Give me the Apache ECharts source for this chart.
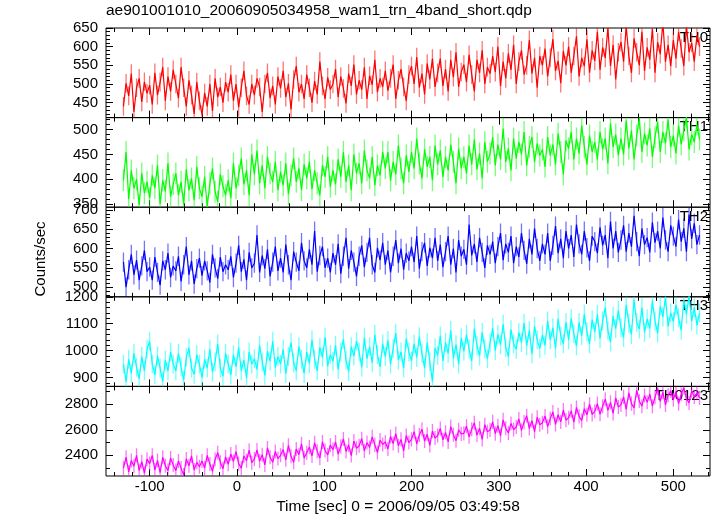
<!DOCTYPE html>
<html><head><meta charset="utf-8">
<script src="https://cdn.jsdelivr.net/npm/echarts@6/dist/echarts.min.js"></script>
<style>html,body{margin:0;padding:0;background:#fff}#c{width:717px;height:516px}</style>
</head><body><div id="c"></div><script>
// ---------- data ----------
const title = 'ae901001010_20060905034958_wam1_trn_4band_short.qdp';
const xTitle = 'Time [sec] 0 = 2006/09/05 03:49:58';
const yTitle = 'Counts/sec';
const panelNames = ['TH0', 'TH1', 'TH2', 'TH3', 'TH0123'];
const binStart = -130;
const binWidth = 3;
const xTicks = [-100, 0, 100, 200, 300, 400, 500];
const yTicks = [[450, 500, 550, 600, 650], [350, 400, 450, 500], [500, 550, 600, 650, 700], [900, 1000, 1100, 1200], [2400, 2600, 2800]];
const errors = [25, 22, 25, 35, 55];

const th0 = [
440,502,468,528,425,490,515,452,506,475,
497,445,530,470,505,545,455,520,480,538,
500,462,545,490,440,510,470,420,505,455,
418,476,440,500,428,515,465,492,450,505,
478,525,455,500,438,490,535,468,445,500,
470,515,492,425,500,530,462,495,445,520,
488,535,465,502,432,512,548,478,500,460,
525,490,450,508,472,560,495,460,518,485,
500,540,465,520,488,448,528,495,552,472,
510,485,545,460,522,498,565,478,515,492,
535,482,515,552,460,510,540,492,455,525,
548,500,572,490,528,472,555,512,568,492,
530,568,495,540,480,565,518,585,492,532,
552,505,578,525,480,565,530,590,500,545,
528,575,532,600,495,560,515,582,538,605,
500,560,590,525,550,618,528,570,490,575,
550,595,520,570,620,535,562,502,588,550,
600,530,575,628,520,570,548,620,530,590,
562,640,538,598,570,650,548,605,512,585,
612,560,655,575,530,622,585,550,640,535,
598,565,648,530,612,580,665,560,605,548,
618,568,640,595,548,655,585,610,560,630,
600];
const th1 = [
398,455,360,418,382,400,348,412,372,395,
362,408,382,428,350,398,376,432,365,390,
412,368,395,350,420,378,402,358,425,382,
365,405,345,392,422,375,355,410,386,368,
398,362,432,382,408,442,390,418,368,450,
410,458,392,428,382,445,412,395,435,378,
415,388,432,370,408,442,395,422,378,430,
402,435,380,418,392,368,428,405,445,385,
418,390,440,405,455,395,428,378,450,412,
432,392,458,418,402,445,388,428,408,455,
422,455,398,435,410,468,422,392,448,415,
455,422,482,432,402,460,425,445,398,468,
430,458,405,445,418,470,435,392,462,422,
445,412,468,430,480,420,452,402,475,435,
452,485,428,470,440,502,435,462,418,482,
442,475,450,495,428,465,485,435,472,448,
460,425,485,448,470,430,492,455,410,478,
462,495,440,482,452,508,465,430,488,455,
475,440,495,460,482,432,512,465,490,448,
482,450,518,462,498,440,488,522,455,492,
468,502,445,485,515,455,495,472,520,465,
488,452,508,470,498,525,460,490,475,510,
480];
const th2 = [
565,500,545,585,532,570,518,555,595,540,
552,518,578,538,505,568,545,588,525,555,
542,580,515,558,605,532,568,508,548,575,
530,568,542,512,585,550,522,578,540,558,
545,580,525,562,608,540,572,518,590,550,
562,635,538,582,548,598,528,565,605,542,
575,538,610,558,518,592,565,542,615,568,
550,598,558,645,540,582,605,550,575,538,
588,558,612,535,580,628,548,595,565,528,
580,608,552,590,628,558,538,602,570,615,
558,595,538,580,622,562,600,545,588,568,
605,565,632,548,592,615,555,602,575,628,
568,610,552,592,632,558,600,538,622,580,
598,558,662,582,612,565,628,590,550,608,
585,618,562,605,640,570,612,590,632,562,
605,578,640,595,560,625,585,652,600,568,
612,585,640,568,608,658,588,625,575,645,
600,635,578,662,612,585,645,602,568,632,
618,588,655,608,635,575,670,600,645,590,
622,660,592,640,605,685,618,580,652,610,
628,590,668,615,645,600,680,622,592,660,
632,605,675,618,652,592,688,625,665,610,
635];
const th3 = [
950,885,968,915,990,938,895,978,925,1005,
1035,950,910,980,935,885,965,925,995,950,
925,990,940,890,975,1010,935,912,985,950,
900,968,935,1005,920,958,1025,935,905,990,
950,910,985,940,1012,925,965,898,995,950,
970,930,1020,958,908,998,962,1035,938,978,
950,1005,915,978,1030,955,925,1015,968,915,
995,952,1040,968,925,1012,975,1050,942,985,
960,1020,930,995,1042,965,922,1015,980,1035,
995,938,1048,970,1015,955,1060,985,940,1025,
978,1038,950,1008,1065,965,995,935,1045,995,
962,1025,975,1052,990,935,1030,958,885,1010,
982,1055,962,1030,990,1075,972,1022,950,1048,
998,1060,1005,962,1082,1018,980,1068,1008,970,
1028,1085,1000,1060,1022,1098,1012,978,1078,1025,
1005,1068,1030,1102,1018,1075,988,1090,1040,1008,
1058,1020,1110,1040,1085,1008,1118,1055,1025,1105,
1040,1120,1062,1018,1105,1055,1135,1070,1025,1115,
1070,1135,1045,1110,1160,1075,1032,1128,1082,1150,
1085,1048,1170,1102,1060,1190,1105,1080,1160,1068,
1118,1082,1185,1110,1065,1165,1125,1200,1090,1140,
1108,1170,1122,1075,1190,1135,1205,1110,1160,1095,
1140];
const th0123 = [
2300,2385,2270,2360,2315,2400,2280,2350,2260,2370,
2335,2400,2285,2360,2265,2385,2318,2280,2378,2325,
2280,2355,2300,2245,2372,2318,2395,2285,2345,2310,
2355,2300,2400,2332,2275,2368,2420,2345,2295,2388,
2330,2410,2352,2428,2335,2300,2395,2358,2440,2342,
2372,2442,2355,2405,2325,2458,2385,2345,2430,2375,
2400,2445,2365,2478,2392,2345,2450,2405,2490,2380,
2420,2465,2395,2498,2432,2378,2505,2438,2402,2480,
2445,2505,2410,2470,2528,2430,2482,2398,2512,2455,
2475,2530,2435,2500,2462,2545,2482,2422,2520,2485,
2505,2450,2548,2492,2570,2475,2525,2435,2555,2500,
2525,2585,2490,2560,2605,2512,2565,2478,2590,2535,
2555,2610,2522,2580,2505,2625,2562,2515,2600,2568,
2572,2628,2545,2605,2655,2558,2612,2525,2640,2585,
2598,2662,2570,2632,2555,2678,2612,2575,2650,2602,
2622,2685,2595,2660,2710,2610,2672,2585,2698,2640,
2655,2708,2625,2688,2740,2642,2718,2662,2755,2675,
2695,2748,2660,2775,2705,2672,2765,2718,2800,2720,
2745,2805,2722,2785,2840,2752,2815,2728,2850,2778,
2795,2858,2760,2890,2805,2772,2910,2825,2785,2868,
2815,2880,2785,2855,2925,2822,2895,2795,2870,2905,
2835,2900,2805,2878,2930,2842,2810,2905,2858,2890,
2850];
const seriesValues = [th0, th1, th2, th3, th0123];

// ---------- layout / style ----------
const colors = ['#ff0000', '#00ff00', '#0000ff', '#00ffff', '#ff00ff'];
const yRanges = [[410, 650], [344, 524], [475, 707], [867, 1200], [2238, 2940]];
const yMinorStep = [10, 10, 10, 20, 100];
const xMin = -150, xMax = 542, xMinorStep = 20;
const FONT = '"Liberation Sans", Arial, Helvetica, sans-serif';
const L = 106, R = 710, TOP = 28, BOT = 476;
const PH = (BOT - TOP) / 5;

function minorVals(min, max, step) {
  const out = [];
  for (let v = Math.ceil(min / step) * step; v <= max; v += step) out.push(v);
  return out;
}
const plain = v => String(v);

const grids = [], xAxes = [], yAxes = [], series = [], graphics = [];
const xMinor = minorVals(xMin, xMax, xMinorStep);

function xAx(i, pos, ticks, len, showLabel) {
  return {
    gridIndex: i, type: 'value', min: xMin, max: xMax, position: pos,
    axisLine: { show: false, onZero: false }, splitLine: { show: false },
    axisTick: { show: true, inside: true, length: len, customValues: ticks, lineStyle: { color: '#000', width: 1 } },
    axisLabel: { show: showLabel, customValues: ticks, formatter: plain, margin: 3, fontSize: 15, color: '#000', fontFamily: FONT }
  };
}
function yAx(i, pos, ticks, len, showLabel) {
  return {
    gridIndex: i, type: 'value', min: yRanges[i][0], max: yRanges[i][1], position: pos,
    axisLine: { show: false, onZero: false }, splitLine: { show: false },
    axisTick: { show: true, inside: true, length: len, customValues: ticks, lineStyle: { color: '#000', width: 1 } },
    axisLabel: { show: showLabel, customValues: ticks, formatter: plain, margin: 8, fontSize: 15, color: '#000', fontFamily: FONT }
  };
}

for (let i = 0; i < 5; i++) {
  const top = TOP + i * PH;
  grids.push({ left: L, width: R - L, top: top, height: PH, show: true, borderColor: '#000', borderWidth: 1, backgroundColor: 'transparent' });
  xAxes.push(xAx(i, 'bottom', xTicks, 7, i === 4));
  xAxes.push(xAx(i, 'bottom', xMinor, 4, false));
  xAxes.push(xAx(i, 'top', xTicks, 7, false));
  xAxes.push(xAx(i, 'top', xMinor, 4, false));
  const ym = minorVals(yRanges[i][0], yRanges[i][1], yMinorStep[i]);
  yAxes.push(yAx(i, 'left', yTicks[i], 7, true));
  yAxes.push(yAx(i, 'left', ym, 4, false));
  yAxes.push(yAx(i, 'right', yTicks[i], 7, false));
  yAxes.push(yAx(i, 'right', ym, 4, false));

  const vals = seriesValues[i];
  const pts = vals.map((v, k) => [binStart + k * binWidth, v]);
  const errPts = vals.map((v, k) => [binStart + k * binWidth, v, errors[i]]);
  const col = colors[i];
  series.push({
    type: 'custom', xAxisIndex: 4 * i, yAxisIndex: 4 * i, clip: true, silent: true,
    data: errPts, encode: { x: 0, y: 1 },
    renderItem: function (params, api) {
      const x = api.value(0), y = api.value(1), e = api.value(2);
      const p1 = api.coord([x, y - e]);
      const p2 = api.coord([x, y + e]);
      return { type: 'line', shape: { x1: p1[0], y1: p1[1], x2: p2[0], y2: p2[1] },
        style: { stroke: col, lineWidth: 1.3, opacity: 0.55 } };
    }
  });
  series.push({
    type: 'line', xAxisIndex: 4 * i, yAxisIndex: 4 * i, data: pts, showSymbol: false, symbol: 'none',
    clip: true, silent: true, animation: false,
    lineStyle: { color: col, width: 1.2 }
  });
  graphics.push({ type: 'text', right: 717 - 708, top: top + 2,
    style: { text: panelNames[i], font: '15px ' + FONT, fill: '#000', textAlign: 'right' } });
}

graphics.push({ type: 'text', left: L, top: 3, style: { text: title, font: '15.5px ' + FONT, fill: '#000' } });
graphics.push({ type: 'text', x: 398, y: 507, style: { text: xTitle, font: '15.5px ' + FONT, fill: '#000', textAlign: 'center', textVerticalAlign: 'middle' } });
graphics.push({ type: 'text', x: 41, y: 259, rotation: Math.PI / 2, style: { text: yTitle, font: '15px ' + FONT, fill: '#000', textAlign: 'center', textVerticalAlign: 'middle' } });

const chart = echarts.init(document.getElementById('c'), null, { renderer: 'canvas' });
chart.setOption({
  backgroundColor: '#fff',
  animation: false,
  grid: grids, xAxis: xAxes, yAxis: yAxes, series: series, graphic: graphics
});
</script></body></html>
